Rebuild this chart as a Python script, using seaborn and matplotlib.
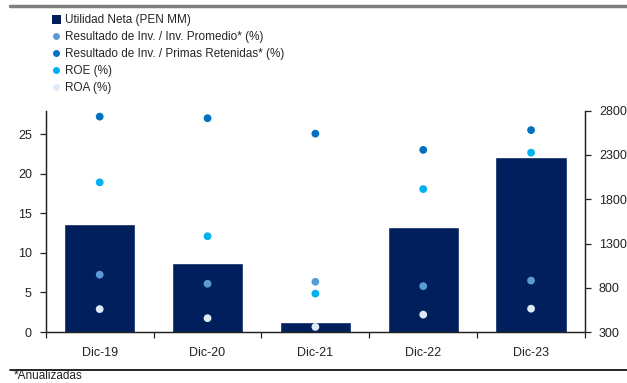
import numpy as np
import pandas as pd
import matplotlib
matplotlib.use("Agg")
import matplotlib.pyplot as plt
from matplotlib.lines import Line2D
from matplotlib.patches import Patch
import seaborn as sns

# data
periodos = ["Dic-19", "Dic-20", "Dic-21", "Dic-22", "Dic-23"]
utilidad_neta = [1520, 1075, 410, 1487, 2275]          # PEN MM, right axis
res_inv_prom = [7.25, 6.1, 6.35, 5.8, 6.5]             # %
res_inv_primas = [27.2, 27.0, 25.05, 23.0, 25.5]       # %
roe = [18.9, 12.1, 4.85, 18.05, 22.65]                 # %
roa = [2.9, 1.75, 0.65, 2.2, 2.95]                     # %

series = {
    "Resultado de Inv. / Inv. Promedio* (%)": res_inv_prom,
    "Resultado de Inv. / Primas Retenidas* (%)": res_inv_primas,
    "ROE (%)": roe,
    "ROA (%)": roa,
}
colores = {
    "Resultado de Inv. / Inv. Promedio* (%)": "#5B9BD5",
    "Resultado de Inv. / Primas Retenidas* (%)": "#0070C0",
    "ROE (%)": "#00B0F0",
    "ROA (%)": "#DEEBF7",
}
color_barra = "#001F5C"

sns.set_style("ticks")
plt.rcParams["font.family"] = ["Liberation Sans", "DejaVu Sans"]

df_bar = pd.DataFrame({"Periodo": periodos, "Utilidad": utilidad_neta})
df_pts = pd.DataFrame(
    [(p, k, v) for k, vals in series.items() for p, v in zip(periodos, vals)],
    columns=["Periodo", "Serie", "Valor"],
)

fig = plt.figure(figsize=(6.27, 3.83), dpi=100)
ax = fig.add_axes([0.073, 0.133, 0.86, 0.578])
ax2 = ax.twinx()

# bars on the right-hand scale
sns.barplot(data=df_bar, x="Periodo", y="Utilidad", color=color_barra,
            width=0.66, saturation=1, ax=ax, zorder=1)

# dots on the left-hand scale
sns.stripplot(data=df_pts, x="Periodo", y="Valor", hue="Serie",
              palette=colores, jitter=False, size=5.6, linewidth=0,
              ax=ax2, legend=False, zorder=3)

ax.set_ylim(300, 2800)
ax.set_yticks(np.arange(300, 2801, 500))
ax2.set_ylim(0, 27.95)
ax2.set_yticks(np.arange(0, 26, 5))

for a in (ax, ax2):
    a.set_xlim(-0.5, 4.5)
    a.set_xlabel("")
    a.set_ylabel("")
    for s in ["left", "right", "bottom"]:
        a.spines[s].set_visible(True)
        a.spines[s].set_color("#222222")
        a.spines[s].set_linewidth(0.9)
    a.spines["top"].set_visible(False)
    a.tick_params(axis="y", direction="out", length=4, width=0.9, pad=6,
                  color="#222222", labelsize=9, labelcolor="#222222")

ax.tick_params(axis="y", left=False, labelleft=False, right=True, labelright=True)
ax2.tick_params(axis="y", right=False, labelright=False, left=True, labelleft=True)

ax.tick_params(axis="x", which="major", bottom=True, length=0, labelsize=9,
               pad=11, labelcolor="#222222")
ax.set_xticks(np.arange(-0.5, 4.6, 1.0), minor=True)
ax.tick_params(axis="x", which="minor", bottom=True, direction="out", length=4,
               width=0.9, color="#222222")
ax2.tick_params(axis="x", which="both", length=0, labelbottom=False)

# legend
handles = [Patch(facecolor=color_barra, edgecolor="none", label="Utilidad Neta (PEN MM)")]
for k in series:
    handles.append(Line2D([0], [0], marker="o", linestyle="none",
                          markerfacecolor=colores[k], markeredgecolor="none",
                          markersize=5, label=k))
fig.legend(handles=handles, loc="upper left", bbox_to_anchor=(0.075, 0.975),
           frameon=False, fontsize=8.5, handlelength=0.8, handleheight=0.8,
           handletextpad=0.3, labelspacing=0.42, borderaxespad=0)

# header rule and footnote
fig.add_artist(Line2D([0.016, 1.0], [0.984, 0.984], color="#7F7F7F",
                      linewidth=2.5, transform=fig.transFigure))
fig.add_artist(Line2D([0.016, 1.0], [0.034, 0.034], color="#000000",
                      linewidth=1.2, transform=fig.transFigure))
fig.text(0.022, 0.002, "*Anualizadas", fontsize=8.5, color="#222222",
         ha="left", va="bottom")

fig.savefig("out.png", dpi=100)
plt.close(fig)
